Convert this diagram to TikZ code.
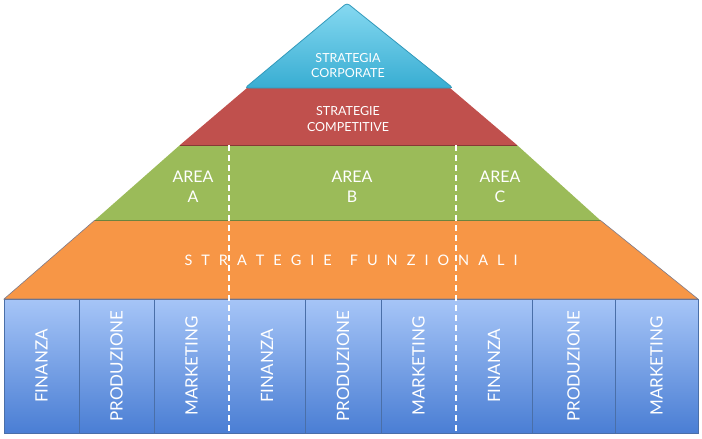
\documentclass[tikz,border=0pt]{standalone}
\usepackage{fontspec}
\setmainfont{Lato}
\definecolor{cyanTop}{HTML}{86D9F1}
\definecolor{cyanBot}{HTML}{38ADD2}
\definecolor{cyanEdge}{HTML}{3199BB}
\definecolor{redF}{HTML}{C0504D}
\definecolor{greenF}{HTML}{9BBB59}
\definecolor{orangeF}{HTML}{F79646}
\definecolor{boxTop}{HTML}{A6C5F7}
\definecolor{boxBot}{HTML}{4A7ED4}
\definecolor{boxEdge}{HTML}{4A6FA8}
\tikzset{
  lbl/.style={text=white, align=center, inner sep=0pt},
  small/.style={lbl, font=\fontsize{12.5}{15}\selectfont},
  mid/.style={lbl, font=\fontsize{12.5}{16}\selectfont},
  arealbl/.style={lbl, font=\fontsize{16}{20}\selectfont},
  collbl/.style={lbl, rotate=90, font=\fontsize{17}{20}\selectfont},
  divider/.style={white, line width=1.3pt, dash pattern=on 6pt off 4pt},
  layeredge/.style={line width=0.6pt}
}
\begin{document}
\begin{tikzpicture}[x=1pt, y=-1pt]
\useasboundingbox (0,0) rectangle (702,439);
% base band
\shade[top color=boxTop, bottom color=boxBot] (4,299) rectangle (698,433);
\draw[boxEdge, line width=0.6pt] (4,299) rectangle (698,433);
\foreach \xx in {79,154,305,381,532,615}
  \draw[boxEdge, line width=0.7pt] (\xx,299) -- (\xx,433);
% orange
\fill[orangeF] (95,220) -- (600,220) -- (698,299) -- (4,299) -- cycle;
\draw[layeredge, draw=boxEdge!70!orangeF] (95,220) -- (4,299) -- (698,299) -- (600,220);
% green
\fill[greenF] (180,145) -- (517,145) -- (600,220) -- (95,220) -- cycle;
\draw[layeredge, draw=greenF!70!black] (95,220) -- (600,220);
% red
\fill[redF] (247,88) -- (450,88) -- (517,145) -- (180,145) -- cycle;
\draw[layeredge, draw=redF!70!black] (180,145) -- (517,145);
% top triangle
\shade[top color=cyanTop, bottom color=cyanBot, rounded corners=3pt] (347,3) -- (453,88) -- (245,88) -- cycle;
\draw[cyanEdge, line width=0.8pt, rounded corners=3pt] (347,3) -- (453,88) -- (245,88) -- cycle;
% dashed dividers
\coordinate (d1t) at (229,145);
\coordinate (d1b) at (229,437);
\coordinate (d2t) at (456,145);
\coordinate (d2b) at (456,437);
\draw[divider] (d1t) -- (d1b);
\draw[divider] (d2t) -- (d2b);
% labels
\node[small] (corp) at (348,66) {STRATEGIA\\CORPORATE};
\node[mid] (comp) at (348,119) {STRATEGIE\\COMPETITIVE};
\node[arealbl] (areaA) at (193,187) {AREA\\A};
\node[arealbl] (areaB) at (352,187) {AREA\\B};
\node[arealbl] (areaC) at (500,187) {AREA\\C};
\node[lbl, font=\fontsize{14.5}{16}\selectfont] (funz) at (351,260)
  {\makebox[333pt][s]{S\hfill T\hfill R\hfill A\hfill T\hfill E\hfill G\hfill I\hfill E\hfill\hfill F\hfill U\hfill N\hfill Z\hfill I\hfill O\hfill N\hfill A\hfill L\hfill I}};
\node[collbl] (c1) at (41.5,366) {FINANZA};
\node[collbl] (c2) at (116.5,366) {PRODUZIONE};
\node[collbl] (c3) at (191.5,366) {MARKETING};
\node[collbl] (c4) at (267,366) {FINANZA};
\node[collbl] (c5) at (343,366) {PRODUZIONE};
\node[collbl] (c6) at (418.5,366) {MARKETING};
\node[collbl] (c7) at (494,366) {FINANZA};
\node[collbl] (c8) at (573.5,366) {PRODUZIONE};
\node[collbl] (c9) at (656.5,366) {MARKETING};
\end{tikzpicture}
\end{document}
